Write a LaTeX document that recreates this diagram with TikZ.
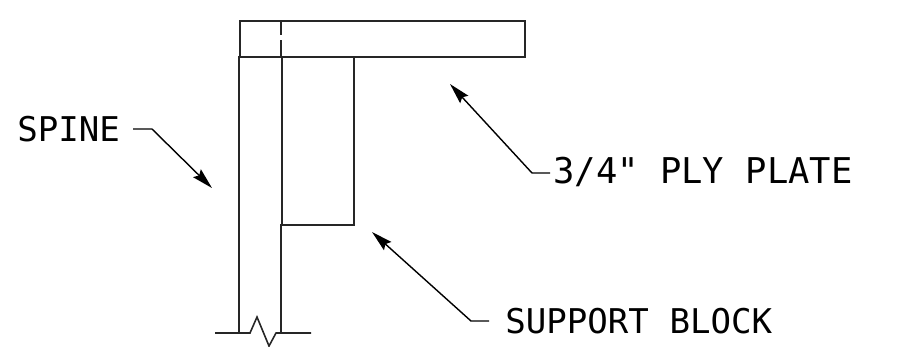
\documentclass[tikz,border=0pt]{standalone}
\usepackage{fontspec}
\setmonofont{DejaVu Sans Mono}
\usetikzlibrary{arrows.meta}

\tikzset{
	part/.style={draw=black!85, line width=0.9pt, inner sep=0pt, anchor=north west},
	edge/.style={draw=black!85, line width=0.9pt},
	leader/.style={draw=black, line width=0.8pt, -{Stealth[length=0.42cm, width=0.22cm, inset=0.06cm]}},
	callout/.style={anchor=west, inner sep=0pt, font=\ttfamily\fontsize{19.4}{22}\selectfont}
}

\begin{document}
\begin{tikzpicture}[x=0.02cm, y=-0.02cm]
	\useasboundingbox (0,0) rectangle (901,346);

	% plate and block
	\node[part, minimum width=5.71cm, minimum height=0.72cm] (plate) at (239,20) {};
	\node[part, minimum width=1.44cm, minimum height=3.36cm] (block) at (281,56) {};

	% spine
	\coordinate (spineleft) at (239,56);
	\coordinate (spineright) at (281,224);
	\coordinate (leftfoot) at (239,333);
	\coordinate (rightfoot) at (281,333);
	\draw[edge] (spineleft) -- (leftfoot);
	\draw[edge] (spineright) -- (rightfoot);

	% hidden part of the spine in the plate
	\coordinate (topa) at (281,20);
	\coordinate (topb) at (281,35);
	\coordinate (topc) at (281,40);
	\coordinate (topd) at (281,56);
	\draw[edge] (topa) -- (topb);
	\draw[edge] (topc) -- (topd);

	% break line
	\coordinate (breakstart) at (215,333);
	\coordinate (breakend) at (311,333);
	\draw[edge] (breakstart) -- (250,333) -- (257,317) -- (269,346) -- (276,333) -- (breakend);

	% labels
	\node[callout] (spinelabel) at (17,129) {SPINE};
	\node[callout, font=\ttfamily\fontsize{20.2}{22}\selectfont] (platelabel) at (553,172) {3/4" PLY PLATE};
	\node[callout] (blocklabel) at (505,321) {SUPPORT BLOCK};

	\coordinate (spinetail) at (133,129);
	\coordinate (spinetip) at (212,188);
	\coordinate (platetail) at (550,173);
	\coordinate (platetip) at (450,84);
	\coordinate (blocktail) at (489,321);
	\coordinate (blocktip) at (372,232);

	\draw[leader] (spinetail) -- (152,129) -- (spinetip);
	\draw[leader] (platetail) -- (532,173) -- (platetip);
	\draw[leader] (blocktail) -- (471,321) -- (blocktip);
\end{tikzpicture}
\end{document}
